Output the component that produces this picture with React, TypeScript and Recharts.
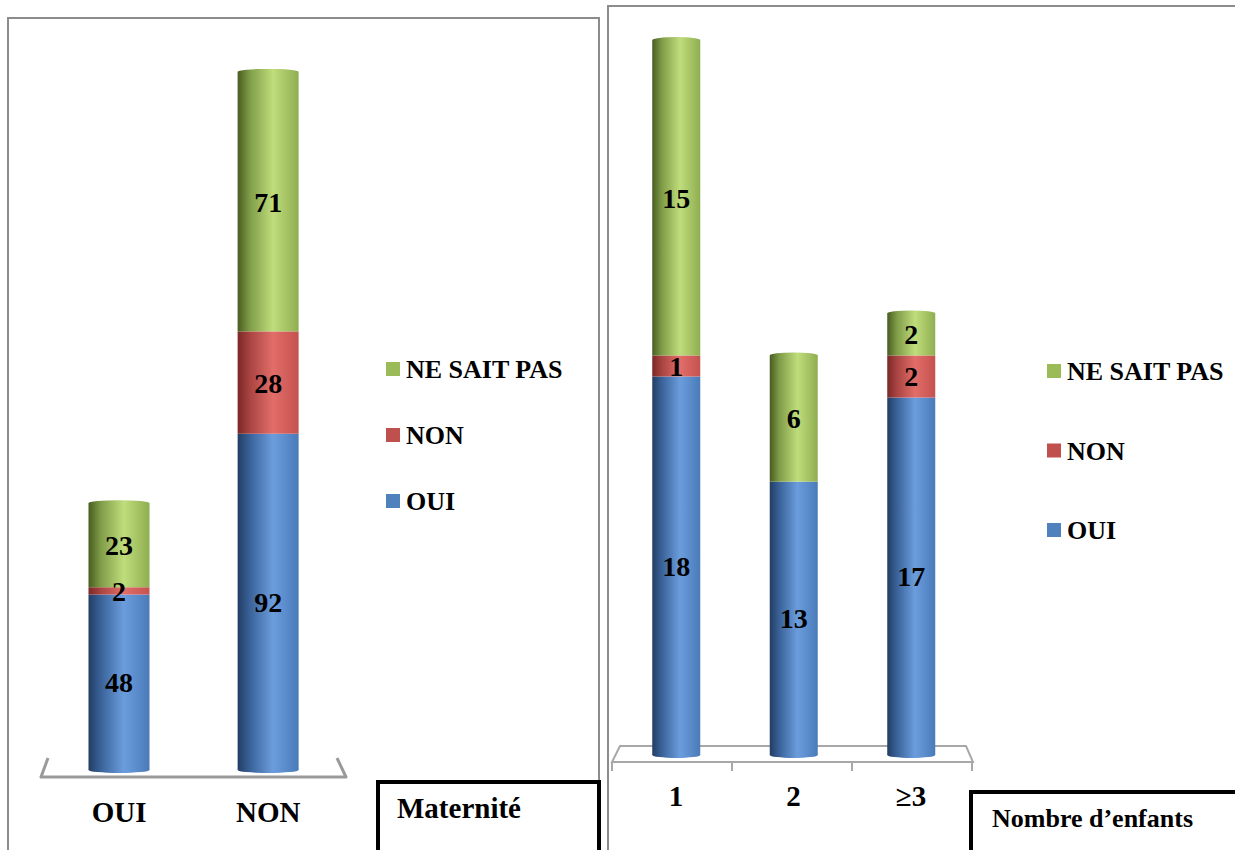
import React from 'react';
import { BarChart, Bar, XAxis, YAxis, LabelList } from 'recharts';

// Maternité
const matCategories = ['OUI', 'NON'];
const matOui = [48, 92];
const matNon = [2, 28];
const matNsp = [23, 71];

// Nombre d'enfants
const enfCategories = ['1', '2', '≥3'];
const enfOui = [18, 13, 17];
const enfNon = [1, 0, 2];
const enfNsp = [15, 6, 2];

const seriesKeys = ['oui', 'non', 'nsp'];
const seriesNames = ['OUI', 'NON', 'NE SAIT PAS'];
const seriesColors = ['#4f81bd', '#c0504d', '#9bbb59'];

const FONT = "'Liberation Serif', 'Times New Roman', serif";

const matData = matCategories.map((cat, i) => ({ cat, oui: matOui[i], non: matNon[i], nsp: matNsp[i] }));
const enfData = enfCategories.map((cat, i) => ({ cat, oui: enfOui[i], non: enfNon[i], nsp: enfNsp[i] }));

const gradStops: Record<string, string[]> = {
  oui: ['#223d63', '#3a6299', '#6b9ddd', '#4a7ab8'],
  non: ['#7a2826', '#a94442', '#e26d69', '#c4524f'],
  nsp: ['#485d20', '#7f9c48', '#c0dd7c', '#8fae50'],
};

function Gradients({ prefix }: { prefix: string }) {
  return (
    <defs>
      {seriesKeys.map((k) => (
        <linearGradient key={k} id={`${prefix}-${k}`} x1="0" y1="0" x2="1" y2="0">
          <stop offset="0%" stopColor={gradStops[k][0]} />
          <stop offset="20%" stopColor={gradStops[k][1]} />
          <stop offset="58%" stopColor={gradStops[k][2]} />
          <stop offset="100%" stopColor={gradStops[k][3]} />
        </linearGradient>
      ))}
    </defs>
  );
}

// cylinder look: gradient body + small elliptical cap
function cylinder(gradId: string, cap: 'top' | 'bottom' | 'none') {
  return (props: any) => {
    const { x, y, width, height } = props;
    if (!height || height <= 0) return <g />;
    const cx = x + width / 2;
    const ry = 3;
    return (
      <g>
        <rect x={x} y={y} width={width} height={height} fill={`url(#${gradId})`} />
        {cap === 'bottom' && <ellipse cx={cx} cy={y + height} rx={width / 2} ry={ry} fill={`url(#${gradId})`} />}
        {cap === 'top' && <ellipse cx={cx} cy={y} rx={width / 2} ry={ry} fill={`url(#${gradId})`} />}
      </g>
    );
  };
}

const hideZero = (v: any) => (Number(v) === 0 ? '' : v);

function AxisTick(props: any) {
  const { x, y, payload, dy } = props;
  return (
    <text x={x} y={y + dy} textAnchor="middle" fontFamily={FONT} fontWeight="bold" fontSize={29} fill="#000">
      {payload.value}
    </text>
  );
}

function renderBars(prefix: string, barSize: number) {
  return seriesKeys.map((k, i) => (
    <Bar
      key={k}
      dataKey={k}
      name={seriesNames[i]}
      stackId="a"
      fill={seriesColors[i]}
      barSize={barSize}
      isAnimationActive={false}
      shape={cylinder(`${prefix}-${k}`, i === 0 ? 'bottom' : i === seriesKeys.length - 1 ? 'top' : 'none')}
    >
      <LabelList
        dataKey={k}
        position="center"
        formatter={hideZero}
        fill="#000"
        fontFamily={FONT}
        fontWeight="bold"
        fontSize={28}
      />
    </Bar>
  ));
}

function Legend({ x, y, gap }: { x: number; y: number; gap: number }) {
  const items = seriesNames.map((n, i) => ({ n, c: seriesColors[i] })).reverse();
  return (
    <g>
      {items.map((it, i) => (
        <g key={it.n}>
          <rect x={x} y={y + i * gap - 7} width={14} height={14} fill={it.c} />
          <text x={x + 20} y={y + i * gap + 9} fontFamily={FONT} fontWeight="bold" fontSize={26} fill="#000">
            {it.n}
          </text>
        </g>
      ))}
    </g>
  );
}

export default function App() {
  return (
    <div style={{ position: 'absolute', left: 0, top: 0, width: 1235, height: 850, overflow: 'hidden', background: '#fff' }}>
      {/* panels and 3D floors, behind the bars */}
      <svg width={1235} height={850} style={{ position: 'absolute', left: 0, top: 0 }}>
        <rect x={8} y={18} width={591} height={900} fill="none" stroke="#8c8c8c" strokeWidth={2} />
        <rect x={608} y={6} width={700} height={900} fill="none" stroke="#8c8c8c" strokeWidth={2} />
        <polyline points="48,758 41,777 346,777 337,758" fill="none" stroke="#9a9a9a" strokeWidth={3} strokeLinejoin="round" />
        <polygon points="620,746 966,746 973,762 612,762" fill="none" stroke="#a8a8a8" strokeWidth={2} />
        {[0, 1, 2, 3].map((i) => (
          <line key={i} x1={612 + i * 120} y1={762} x2={612 + i * 120} y2={771} stroke="#a8a8a8" strokeWidth={2} />
        ))}
      </svg>

      <BarChart
        width={600}
        height={850}
        data={matData}
        margin={{ top: 39, right: 257.25, left: 44.5, bottom: 0 }}
        style={{ position: 'absolute', left: 0, top: 0 }}
      >
        <Gradients prefix="m" />
        <XAxis dataKey="cat" height={80} axisLine={false} tickLine={false} tickSize={0} tickMargin={0} interval={0} tick={(p: any) => <AxisTick {...p} dy={52} />} />
        <YAxis hide domain={[0, 200]} />
        {renderBars('m', 61)}
      </BarChart>

      <BarChart
        width={635}
        height={850}
        data={enfData}
        margin={{ top: 19, right: 265.25, left: 17.25, bottom: 0 }}
        style={{ position: 'absolute', left: 600, top: 0 }}
      >
        <Gradients prefix="e" />
        <XAxis dataKey="cat" height={95} axisLine={false} tickLine={false} tickSize={0} tickMargin={0} interval={0} tick={(p: any) => <AxisTick {...p} dy={51} />} />
        <YAxis hide domain={[0, 35]} />
        {renderBars('e', 48)}
      </BarChart>

      {/* legends and title boxes, in front */}
      <svg width={1235} height={850} style={{ position: 'absolute', left: 0, top: 0, pointerEvents: 'none' }}>
        <Legend x={386} y={369} gap={66} />
        <Legend x={1047} y={371} gap={79.5} />
        <rect x={378} y={782} width={221} height={120} fill="#fff" stroke="#000" strokeWidth={4} />
        <text x={397} y={818} fontFamily={FONT} fontWeight="bold" fontSize={29} fill="#000">Maternité</text>
        <rect x={971} y={792} width={300} height={120} fill="#fff" stroke="#000" strokeWidth={4} />
        <text x={992} y={827} fontFamily={FONT} fontWeight="bold" fontSize={26} fill="#000">Nombre d’enfants</text>
      </svg>
    </div>
  );
}
